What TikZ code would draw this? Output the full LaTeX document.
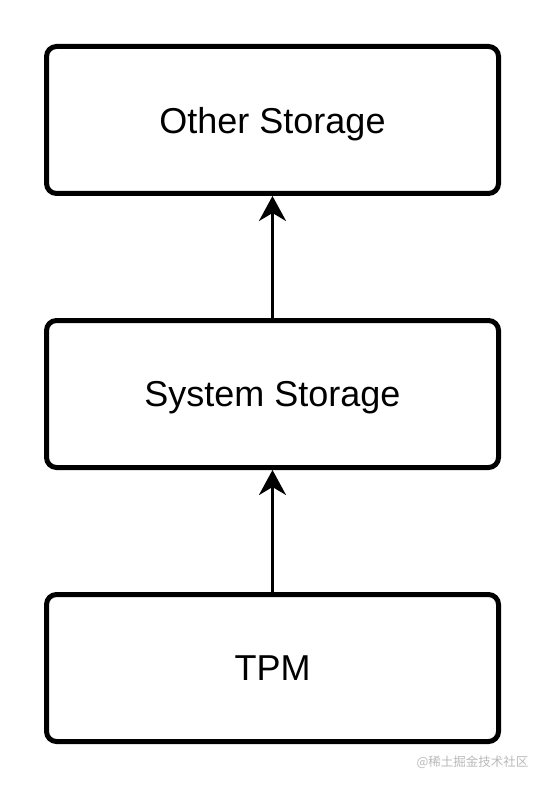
\documentclass[tikz,border=0pt]{standalone}
\usepackage{fontspec}
\setmainfont{Liberation Sans}
\newfontfamily\cjkfont{Noto Sans CJK SC}
\usetikzlibrary{positioning, arrows.meta}

\begin{document}
\begin{tikzpicture}[
  x=1pt, y=-1pt,
  font=\fontsize{36}{42}\selectfont,
  layer/.style={
    draw=black, line width=5pt, rounded corners=10pt,
    minimum width=452pt, minimum height=147pt, inner sep=0pt,
    text depth=0pt
  },
  uplink/.style={
    draw=black, line width=3pt,
    -{Stealth[length=25pt, width=27pt, inset=8pt]}
  },
  node distance=122pt
]

% ── Canvas ───────────────────────────────────────────────────────────────────
\useasboundingbox (0,0) rectangle (540,786);

% ── Storage layers ───────────────────────────────────────────────────────────
\node[layer] (other) at (272.5,120) {Other Storage};
\node[layer, below=of other] (system) {System Storage};
\node[layer, below=of system] (tpm) {TPM};

% ── Links ────────────────────────────────────────────────────────────────────
\draw[uplink] (system.north) -- (other.south);
\draw[uplink] (tpm.north) -- (system.south);

% ── Watermark ────────────────────────────────────────────────────────────────
\node[font=\cjkfont\fontsize{12.5}{15}\selectfont, text=gray!55, anchor=east]
  (mark) at (532,762) {@稀土掘金技术社区};

\end{tikzpicture}
\end{document}
